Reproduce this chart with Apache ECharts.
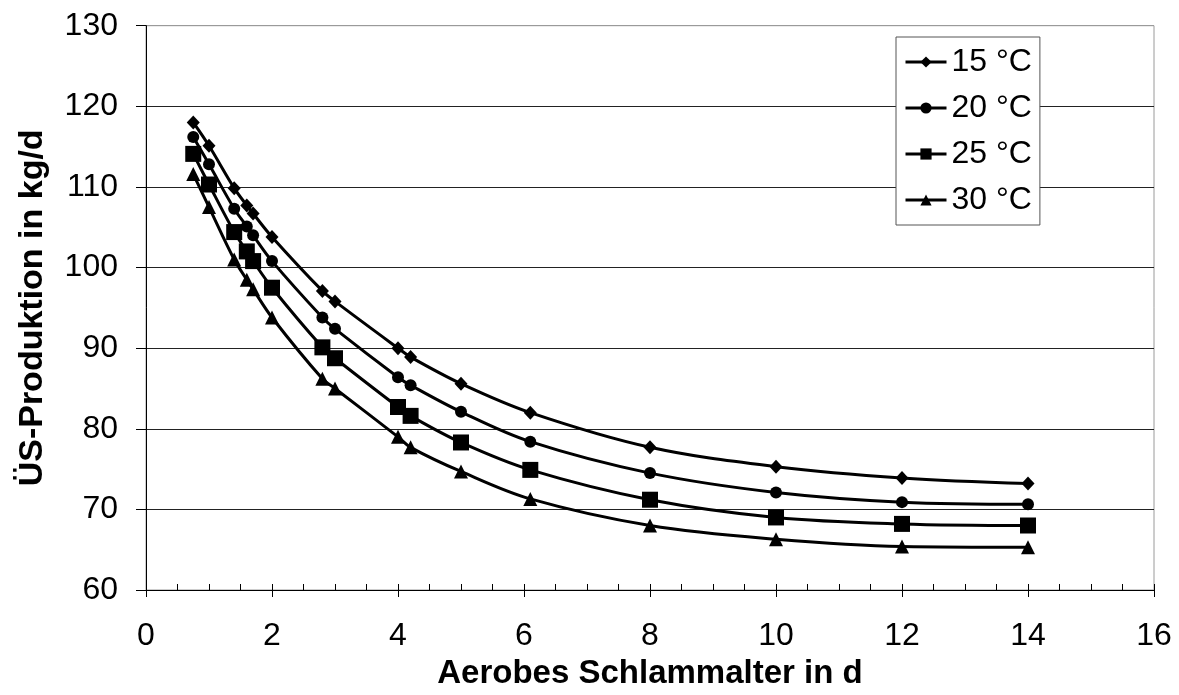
<!DOCTYPE html>
<html>
<head>
<meta charset="utf-8">
<script src="https://cdn.jsdelivr.net/npm/echarts@6/dist/echarts.min.js"></script>
<style>
html,body{margin:0;padding:0;background:#fff;}
#chart{width:1179px;height:695px;}
</style>
</head>
<body>
<div id="chart"></div>
<script>
const xValues = [0.75, 1, 1.4, 1.6, 1.7, 2, 2.8, 3, 4, 4.2, 5, 6.1, 8, 10, 12, 14];
const seriesNames = ['15 °C', '20 °C', '25 °C', '30 °C'];
const t15 = [118.0, 115.1, 109.85, 107.7, 106.7, 103.8, 97.1, 95.8, 90.0, 88.9, 85.6, 82.0, 77.7, 75.3, 73.9, 73.2];
const t20 = [116.2, 112.8, 107.3, 105.1, 104.0, 100.8, 93.8, 92.4, 86.4, 85.4, 82.1, 78.4, 74.5, 72.1, 70.9, 70.65];
const t25 = [114.1, 110.3, 104.4, 102.0, 100.8, 97.5, 90.1, 88.75, 82.7, 81.6, 78.3, 74.9, 71.2, 69.0, 68.2, 68.0];
const t30 = [111.6, 107.5, 101.0, 98.5, 97.3, 93.8, 86.2, 85.0, 79.0, 77.7, 74.7, 71.3, 68.0, 66.3, 65.4, 65.3];
const xTitle = 'Aerobes Schlammalter in d';
const yTitle = 'ÜS-Produktion in kg/d';

const allData = [t15, t20, t25, t30];
const symbols = ['diamond', 'circle', 'rect', 'triangle'];
const symbolSizes = [[13, 14], 12, 16, 14];
const FONT = '"Liberation Sans", Arial, sans-serif';

const series = allData.map((vals, i) => ({
  name: seriesNames[i],
  type: 'line',
  xAxisIndex: 0,
  data: xValues.map((x, j) => [x, vals[j]]),
  smooth: 0.35,
  symbol: symbols[i],
  symbolSize: symbolSizes[i],
  showSymbol: true,
  lineStyle: { color: '#000', width: 3 },
  itemStyle: { color: '#000' },
  z: 3
}));

const chart = echarts.init(document.getElementById('chart'), null, { renderer: 'canvas' });
chart.setOption({
  animation: false,
  backgroundColor: '#fff',
  textStyle: { fontFamily: FONT },
  grid: {
    left: 146, right: 25, top: 25.7, bottom: 100,
    show: true, borderColor: '#9a9a9a', borderWidth: 1, backgroundColor: 'transparent'
  },
  legend: {
    orient: 'vertical',
    left: 896, top: 37,
    padding: [9, 8, 9, 8],
    itemGap: 14,
    itemWidth: 41, itemHeight: 14,
    backgroundColor: '#fff',
    borderColor: '#555', borderWidth: 1,
    lineStyle: { width: 3, color: '#000' },
    textStyle: { fontSize: 32, color: '#000', fontFamily: FONT },
    data: seriesNames
  },
  xAxis: [{
    type: 'value', min: 0, max: 16, interval: 2,
    position: 'bottom',
    axisLine: { show: true, onZero: false, lineStyle: { color: '#000', width: 1 } },
    axisTick: { show: true, inside: true, length: 6, lineStyle: { color: '#000' } },
    minorTick: { show: true, splitNumber: 4, length: 6, lineStyle: { color: '#000' } },
    axisLabel: { fontSize: 32, color: '#000', margin: 30, fontFamily: FONT },
    splitLine: { show: false },
    name: xTitle, nameLocation: 'middle', nameGap: 67,
    nameTextStyle: { fontSize: 33, fontWeight: 'bold', color: '#000', fontFamily: FONT }
  }, {
    type: 'value', min: 0, max: 16, interval: 2,
    position: 'bottom', offset: 0,
    axisLine: { show: false },
    axisTick: { show: true, inside: false, length: 7, lineStyle: { color: '#000' } },
    axisLabel: { show: false },
    splitLine: { show: false }
  }],
  yAxis: {
    type: 'value', min: 60, max: 130, interval: 10,
    axisLine: { show: true, lineStyle: { color: '#000', width: 1 } },
    axisTick: { show: true, inside: false, length: 10, lineStyle: { color: '#000' } },
    axisLabel: { fontSize: 32, color: '#000', margin: 28, fontFamily: FONT },
    splitLine: { show: true, lineStyle: { color: ['#000', '#222', '#222', '#222', '#222', '#222', '#222', '#9a9a9a'], width: 1 } },
    name: yTitle, nameLocation: 'middle', nameGap: 96, nameRotate: 90,
    nameTextStyle: { fontSize: 34, fontWeight: 'bold', color: '#000', fontFamily: FONT }
  },
  series: series
});
</script>
</body>
</html>
